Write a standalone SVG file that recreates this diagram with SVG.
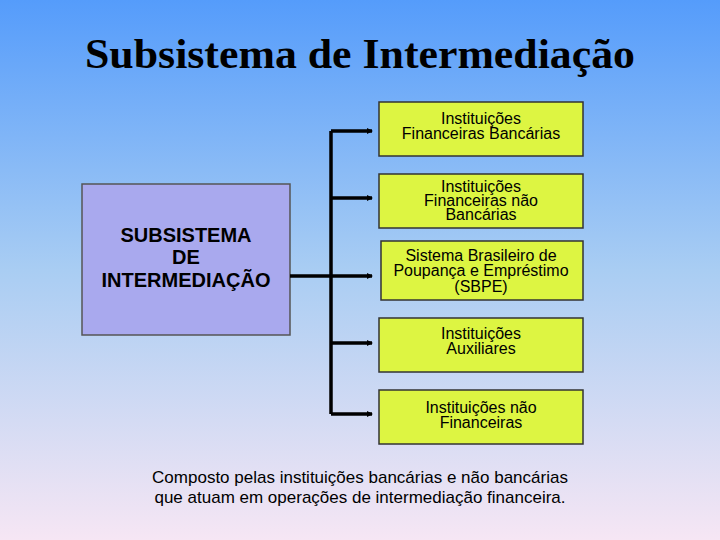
<svg xmlns="http://www.w3.org/2000/svg" width="720" height="540" viewBox="0 0 720 540">
<defs>
<linearGradient id="bg" x1="0" y1="0" x2="0" y2="1">
<stop offset="0" stop-color="#559cfb"/><stop offset="0.5" stop-color="#a9cdf3"/><stop offset="1" stop-color="#f6e6f4"/>
</linearGradient>
<marker id="ah" markerWidth="6" markerHeight="6" refX="5" refY="3" orient="auto" markerUnits="userSpaceOnUse"><path d="M0,0 L6,3 L0,6 Z" fill="#000"/></marker>
</defs>
<style>
.b{fill:#ddf542;stroke:#333;stroke-width:1.5}
.t{font-family:"Liberation Sans",Arial,sans-serif;font-size:16px;text-anchor:middle;fill:#000}
.c{stroke:#000;stroke-width:3.5;fill:none}
</style>
<rect width="720" height="540" fill="url(#bg)"/>
<text x="360" y="68" font-family="Liberation Serif,serif" font-size="43" font-weight="bold" text-anchor="middle" textLength="550" lengthAdjust="spacingAndGlyphs">Subsistema de Intermediação</text>
<g id="main"><rect x="82" y="184" width="208" height="151" fill="#a9a9ee" stroke="#555" stroke-width="1.5"/>
<text class="t" style="font-weight:bold;font-size:20px" x="186" y="242">SUBSISTEMA</text>
<text class="t" style="font-weight:bold;font-size:20px" x="186" y="264">DE</text>
<text class="t" style="font-weight:bold;font-size:20px" x="186" y="287">INTERMEDIAÇÃO</text></g>
<g id="connectors">
<path class="c" d="M331,131 V414"/>
<path class="c" d="M290,276 H372" marker-end="url(#ah)"/>
<path class="c" d="M331,131 H372" marker-end="url(#ah)"/>
<path class="c" d="M331,198 H372" marker-end="url(#ah)"/>
<path class="c" d="M331,343 H372" marker-end="url(#ah)"/>
<path class="c" d="M331,414 H372" marker-end="url(#ah)"/>
</g>
<g id="n1"><rect class="b" x="379" y="102" width="204" height="54"/><text class="t" x="481" y="124">Instituições</text><text class="t" x="481" y="139">Financeiras Bancárias</text></g>
<g id="n2"><rect class="b" x="379" y="174" width="204" height="54"/><text class="t" x="481" y="192">Instituições</text><text class="t" x="481" y="206">Financeiras não</text><text class="t" x="481" y="220">Bancárias</text></g>
<g id="n3"><rect class="b" x="381" y="241" width="202" height="59"/><text class="t" x="481" y="261">Sistema Brasileiro de</text><text class="t" x="481" y="276">Poupança e Empréstimo</text><text class="t" x="481" y="292">(SBPE)</text></g>
<g id="n4"><rect class="b" x="379" y="318" width="204" height="54"/><text class="t" x="481" y="339">Instituições</text><text class="t" x="481" y="354">Auxiliares</text></g>
<g id="n5"><rect class="b" x="379" y="390" width="204" height="54"/><text class="t" x="481" y="413">Instituições não</text><text class="t" x="481" y="428">Financeiras</text></g>
<text class="t" style="font-size:17px" x="360" y="483">Composto pelas instituições bancárias e não bancárias</text>
<text class="t" style="font-size:17px" x="360" y="503">que atuam em operações de intermediação financeira.</text>
</svg>
